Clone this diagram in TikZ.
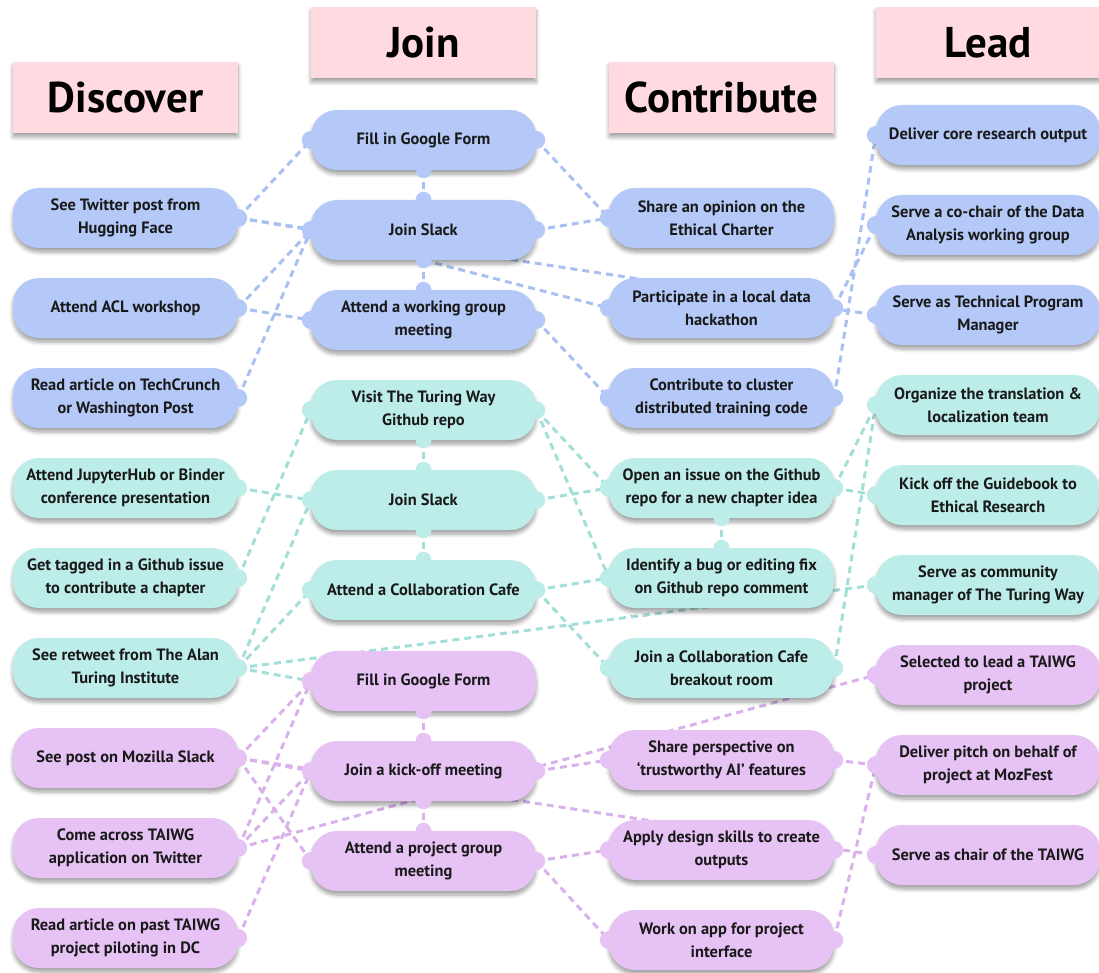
\documentclass[tikz,border=0pt]{standalone}
\usepackage{fontspec}
\setmainfont{PT Sans}
\usetikzlibrary{backgrounds,shadows.blur}
\definecolor{bluef}{HTML}{B4C9F8}
\definecolor{tealf}{HTML}{BCEDE8}
\definecolor{purpf}{HTML}{E6C2F5}
\definecolor{pinkf}{HTML}{FFDAE0}
\definecolor{bluel}{HTML}{A9C0F2}
\definecolor{teall}{HTML}{A3DFD9}
\definecolor{purpl}{HTML}{D9B2EC}
\newcommand\mytabE[2]{\fill[#2] (#1.east) circle (9pt);}
\newcommand\mytabW[2]{\fill[#2] (#1.west) circle (9pt);}
\newcommand\mytabN[2]{\fill[#2] (#1.north) circle (8pt);}
\newcommand\mytabS[2]{\fill[#2] (#1.south) circle (8pt);}
\tikzset{
  shad/.style={blur shadow={shadow xshift=0pt, shadow yshift=-4pt, shadow blur steps=6, shadow opacity=38, shadow blur radius=4pt}},
  box/.style={shad, rounded corners=26pt, minimum width=225pt, minimum height=60pt, inner sep=0pt, align=center, font=\fontsize{16.4}{23}\selectfont\bfseries, text=black!90},
  bluebox/.style={box, fill=bluef},
  tealbox/.style={box, fill=tealf},
  purpbox/.style={box, fill=purpf},
  head/.style={shad, fill=pinkf, minimum width=225pt, minimum height=71pt, inner sep=0pt, font=\fontsize{43}{46}\selectfont\bfseries},
  link/.style={line width=3pt, dash pattern=on 7pt off 5pt},
  bl/.style={link, draw=bluel},
  tl/.style={link, draw=teall},
  pl/.style={link, draw=purpl}
}
\begin{document}
\begin{tikzpicture}[x=1pt,y=-1pt]
\useasboundingbox (0,0) rectangle (1099,973);
% headers
\node[head] (hd) at (125.5,97.5) {Discover};
\node[head] (hj) at (423.5,42.5) {Join};
\node[head] (hc) at (721.5,97.5) {Contribute};
\node[head, minimum width=224pt] (hl) at (988,42.5) {Lead};
% Discover
\node[bluebox] (d1) at (125.5,218) {See Twitter post from\\Hugging Face};
\node[bluebox] (d2) at (125.5,308) {Attend ACL workshop};
\node[bluebox] (d3) at (125.5,398) {Read article on TechCrunch\\or Washington Post};
\node[tealbox] (d4) at (125.5,488) {Attend JupyterHub or Binder\\conference presentation};
\node[tealbox] (d5) at (125.5,578) {Get tagged in a Github issue\\to contribute a chapter};
\node[tealbox] (d6) at (125.5,668) {See retweet from The Alan\\Turing Institute};
\node[purpbox] (d7) at (125.5,758) {See post on Mozilla Slack};
\node[purpbox] (d8) at (125.5,848) {Come across TAIWG\\application on Twitter};
\node[purpbox] (d9) at (125.5,938) {Read article on past TAIWG\\project piloting in DC};
% Join
\node[bluebox] (j1) at (423.5,140) {Fill in Google Form};
\node[bluebox] (j2) at (423.5,230) {Join Slack};
\node[bluebox] (j3) at (423.5,320) {Attend a working group\\meeting};
\node[tealbox] (j4) at (423.5,410) {Visit The Turing Way\\Github repo};
\node[tealbox] (j5) at (423.5,500) {Join Slack};
\node[tealbox] (j6) at (423.5,590) {Attend a Collaboration Cafe};
\node[purpbox] (j7) at (423.5,681) {Fill in Google Form};
\node[purpbox] (j8) at (423.5,771) {Join a kick-off meeting};
\node[purpbox] (j9) at (423.5,861) {Attend a project group\\meeting};
% Contribute
\node[bluebox] (c1) at (721.5,218) {Share an opinion on the\\Ethical Charter};
\node[bluebox] (c2) at (721.5,308) {Participate in a local data\\hackathon};
\node[bluebox] (c3) at (721.5,398) {Contribute to cluster\\distributed training code};
\node[tealbox] (c4) at (721.5,488) {Open an issue on the Github\\repo for a new chapter idea};
\node[tealbox] (c5) at (721.5,578) {Identify a bug or editing fix\\on Github repo comment};
\node[tealbox] (c6) at (721.5,668) {Join a Collaboration Cafe\\breakout room};
\node[purpbox] (c7) at (721.5,760) {Share perspective on\\‘trustworthy AI’ features};
\node[purpbox] (c8) at (721.5,850) {Apply design skills to create\\outputs};
\node[purpbox] (c9) at (721.5,940) {Work on app for project\\interface};
% Lead
\node[bluebox, minimum width=224pt] (l1) at (988,135) {Deliver core research output};
\node[bluebox, minimum width=224pt] (l2) at (988,225) {Serve a co-chair of the Data\\Analysis working group};
\node[bluebox, minimum width=224pt] (l3) at (988,315) {Serve as Technical Program\\Manager};
\node[tealbox, minimum width=224pt] (l4) at (988,405) {Organize the translation \&\\localization team};
\node[tealbox, minimum width=224pt] (l5) at (988,495) {Kick off the Guidebook to\\Ethical Research};
\node[tealbox, minimum width=224pt] (l6) at (988,585) {Serve as community\\manager of The Turing Way};
\node[purpbox, minimum width=224pt] (l7) at (988,675) {Selected to lead a TAIWG\\project};
\node[purpbox, minimum width=224pt] (l8) at (988,765) {Deliver pitch on behalf of\\project at MozFest};
\node[purpbox, minimum width=224pt] (l9) at (988,855) {Serve as chair of the TAIWG};
% tabs
\foreach \n in {d1,d2,d3,j1,j2,j3,c2,c3} {\mytabE{\n}{bluef}}
\foreach \n in {d4,d5,d6,j4,j5,j6,c4,c6} {\mytabE{\n}{tealf}}
\foreach \n in {d7,d8,d9,j8,j9,c7,c8,c9} {\mytabE{\n}{purpf}}
\foreach \n in {j1,j2,j3,c1,c2,c3,l1,l2,l3} {\mytabW{\n}{bluef}}
\foreach \n in {j4,j5,j6,c4,c5,c6,l4,l5,l6} {\mytabW{\n}{tealf}}
\foreach \n in {j7,j8,j9,c7,c8,c9,l7,l8,l9} {\mytabW{\n}{purpf}}
\mytabS{j1}{bluef}\mytabN{j2}{bluef}\mytabS{j2}{bluef}\mytabN{j3}{bluef}
\mytabS{j4}{tealf}\mytabN{j5}{tealf}\mytabS{j5}{tealf}\mytabN{j6}{tealf}
\mytabS{c4}{tealf}\mytabN{c5}{tealf}
\mytabS{j7}{purpf}\mytabN{j8}{purpf}\mytabS{j8}{purpf}\mytabN{j9}{purpf}
% connectors
\begin{scope}[on background layer]
% blue
\draw[bl] (d1.east) -- (j1.west);
\draw[bl] (d1.east) -- (j2.west);
\draw[bl] (d1.east) -- (l3.west);
\draw[bl] (d2.east) -- (j2.west);
\draw[bl] (d2.east) -- (j3.west);
\draw[bl] (d3.east) -- (j2.west);
\draw[bl] (j1.south) -- (j2.north);
\draw[bl] (j2.south) -- (j3.north);
\draw[bl] (j1.east) -- (c1.west);
\draw[bl] (j2.east) -- (c1.west);
\draw[bl] (j2.south) -- (c2.west);
\draw[bl] (j3.east) -- (c3.west);
\draw[bl] (c2.east) -- (l2.west);
\draw[bl] (c3.east) -- (l1.west);
% teal
\draw[tl] (d4.east) -- (j5.west);
\draw[tl] (d5.east) -- (j4.west);
\draw[tl] (d6.east) -- (j5.west);
\draw[tl] (d6.east) -- (j6.west);
\draw[tl] (d6.east) -- (j7.west);
\draw[tl] (d6.east) -- (l6.west);
\draw[tl] (j4.south) -- (j5.north);
\draw[tl] (j5.south) -- (j6.north);
\draw[tl] (j4.east) -- (c4.west);
\draw[tl] (j4.east) -- (c5.west);
\draw[tl] (j5.east) -- (c4.west);
\draw[tl] (j6.east) -- (c5.west);
\draw[tl] (j6.east) -- (c6.west);
\draw[tl] (c4.south) -- (c5.north);
\draw[tl] (c4.east) -- (l4.west);
\draw[tl] (c4.east) -- (l5.west);
\draw[tl] (c6.east) -- (l4.west);
% purple
\draw[pl] (d7.east) -- (j7.west);
\draw[pl] (d7.east) -- (j8.west);
\draw[pl] (d7.east) -- (j9.west);
\draw[pl] (d7.east) -- (l9.west);
\draw[pl] (d8.east) -- (j7.west);
\draw[pl] (d8.east) -- (j8.west);
\draw[pl] (d8.east) -- (l7.west);
\draw[pl] (d9.east) -- (j8.west);
\draw[pl] (j7.south) -- (j8.north);
\draw[pl] (j8.south) -- (j9.north);
\draw[pl] (j8.east) -- (c7.west);
\draw[pl] (j9.east) -- (c8.west);
\draw[pl] (j9.east) -- (c9.west);
\draw[pl] (c7.east) -- (l8.west);
\draw[pl] (c9.east) -- (l8.west);
\end{scope}
\end{tikzpicture}
\end{document}
